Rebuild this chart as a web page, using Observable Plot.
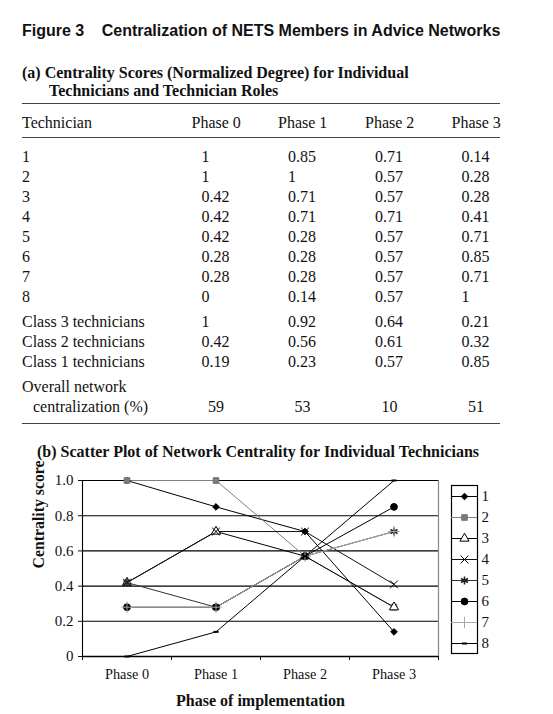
<!DOCTYPE html>
<html>
<head>
<meta charset="utf-8">
<script src="https://cdn.jsdelivr.net/npm/d3@7"></script>
<script src="https://cdn.jsdelivr.net/npm/@observablehq/plot@0.6"></script>
<style>
  html, body { margin: 0; padding: 0; background: #fff; }
  #page { position: relative; width: 553px; height: 714px; overflow: hidden; color: #111; font-family: "Liberation Serif", "Times New Roman", serif; }
  .t { position: absolute; white-space: nowrap; line-height: 20px; font-size: 16px; }
  .rule { position: absolute; left: 22px; width: 478px; height: 0; border-top: 1.4px solid #444; }
  #fig { position: absolute; left: 22px; top: 21px; font-family: "Liberation Sans", Arial, sans-serif; font-weight: bold; font-size: 16px; white-space: nowrap; line-height: 20px; }
  #fig span.num { margin-right: 13px; }
  .sub { position: absolute; font-weight: bold; font-size: 16px; white-space: nowrap; line-height: 18px; }
  #chart { position: absolute; left: 0; top: 460px; }
  #legend { position: absolute; left: 445px; top: 485px; }
</style>
</head>
<body>
<div id="page">
  <div id="fig"><span class="num">Figure 3 </span>Centralization of NETS Members in Advice Networks</div>
  <div class="sub" style="left:22px; top:64px;">(a) Centrality Scores (Normalized Degree) for Individual</div>
  <div class="sub" style="left:49px; top:82px;">Technicians and Technician Roles</div>
  <div class="sub" style="left:37px; top:443px;">(b) Scatter Plot of Network Centrality for Individual Technicians</div>
</div>
<script>
// ---------------- DATA ----------------
const phases = ["Phase 0", "Phase 1", "Phase 2", "Phase 3"];
const technicians = ["1", "2", "3", "4", "5", "6", "7", "8"];
const tech1 = [1, 0.85, 0.71, 0.14];
const tech2 = [1, 1, 0.57, 0.28];
const tech3 = [0.42, 0.71, 0.57, 0.28];
const tech4 = [0.42, 0.71, 0.71, 0.41];
const tech5 = [0.42, 0.28, 0.57, 0.71];
const tech6 = [0.28, 0.28, 0.57, 0.85];
const tech7 = [0.28, 0.28, 0.57, 0.71];
const tech8 = [0, 0.14, 0.57, 1];
const techScores = [tech1, tech2, tech3, tech4, tech5, tech6, tech7, tech8];
const roles = ["Class 3 technicians", "Class 2 technicians", "Class 1 technicians"];
const class3 = [1, 0.92, 0.64, 0.21];
const class2 = [0.42, 0.56, 0.61, 0.32];
const class1 = [0.19, 0.23, 0.57, 0.85];
const roleScores = [class3, class2, class1];
const overallLabel = ["Overall network", "centralization (%)"];
const overallCentralization = [59, 53, 10, 51];
const yTicks = [0, 0.2, 0.4, 0.6, 0.8, 1.0];

// ---------------- TABLE (HTML layout) ----------------
const page = document.getElementById("page");
function addText(txt, left, cy) {
  const d = document.createElement("div");
  d.className = "t";
  d.textContent = txt;
  d.style.left = left + "px";
  d.style.top = (cy - 10) + "px";
  page.appendChild(d);
}
function addRule(y) {
  const d = document.createElement("div");
  d.className = "rule";
  d.style.top = y + "px";
  page.appendChild(d);
}
const labelX = 22;
const colX = [191.5, 278, 365, 451.5];
const valOffset = 10, overallOffset = 16.5, rowH = 20, groupGap = 5;
addRule(103);
addText("Technician", labelX, 123);
phases.forEach((p, j) => addText(p, colX[j], 123));
addRule(137);
let cy = 157;
technicians.forEach((t, i) => {
  addText(t, labelX, cy);
  techScores[i].forEach((v, j) => addText(String(v), colX[j] + valOffset, cy));
  cy += rowH;
});
cy += groupGap;
roles.forEach((r, i) => {
  addText(r, labelX, cy);
  roleScores[i].forEach((v, j) => addText(String(v), colX[j] + valOffset, cy));
  cy += rowH;
});
cy += groupGap;
addText(overallLabel[0], labelX, cy);
cy += rowH;
addText(overallLabel[1], labelX + 11, cy);
overallCentralization.forEach((v, j) => addText(String(v), colX[j] + overallOffset, cy));
addRule(cy + 16);

// ---------------- CHART ----------------
const dashSymbol = {
  draw(context, size) {
    const w = Math.sqrt(size) * 1.1;
    context.rect(-w / 2, -1, w, 2);
  }
};
const styles = [
  {line: "#000", symbol: "diamond2", fill: "#000", stroke: "#000", r: 3.0, sw: 1},
  {line: "#808080", symbol: "square", fill: "#7a7a7a", stroke: "#7a7a7a", r: 3.2, sw: 1},
  {line: "#000", symbol: "triangle", fill: "#fff", stroke: "#000", r: 3.4, sw: 1},
  {line: "#111", symbol: "times", fill: "none", stroke: "#000", r: 3.6, sw: 1},
  {line: "#333", symbol: "asterisk", fill: "none", stroke: "#222", r: 3.8, sw: 1.6},
  {line: "#000", symbol: "circle", fill: "#000", stroke: "#000", r: 3.4, sw: 1},
  {line: "#a8a8a8", symbol: "plus", fill: "none", stroke: "#a8a8a8", r: 3.8, sw: 1},
  {line: "#000", symbol: dashSymbol, fill: "#000", stroke: "none", r: 2.6, sw: 1}
];

const rows = [];
technicians.forEach((t, i) => techScores[i].forEach((v, j) => rows.push({tech: t, ti: i, phase: j, value: v})));

const seriesMarks = [];
technicians.forEach((t, i) => {
  const data = rows.filter(d => d.tech === t);
  const s = styles[i];
  seriesMarks.push(Plot.line(data, {x: d => d.phase + 0.5, y: "value", stroke: s.line, strokeWidth: 1}));
});
technicians.forEach((t, i) => {
  const data = rows.filter(d => d.tech === t);
  const s = styles[i];
  seriesMarks.push(Plot.dot(data, {x: d => d.phase + 0.5, y: "value", symbol: s.symbol, r: s.r, fill: s.fill, stroke: s.stroke, strokeWidth: s.sw}));
});

const chart = Plot.plot({
  width: 553,
  height: 254,
  marginLeft: 82,
  marginRight: 115,
  marginTop: 20,
  marginBottom: 58,
  style: {fontFamily: "'Liberation Serif', 'Times New Roman', serif", fontSize: "14.5px", background: "transparent", color: "#111", overflow: "visible"},
  x: {domain: [0, phases.length]},
  y: {domain: [0, 1]},
  marks: [
    Plot.ruleY(yTicks.filter(v => v > 0), {stroke: "#000", strokeWidth: 1.1}),
    Plot.ruleX([phases.length], {stroke: "#888", strokeWidth: 1.2}),
    Plot.ruleX([0], {stroke: "#000", strokeWidth: 1.1}),
    Plot.ruleY([0], {stroke: "#000", strokeWidth: 1.3}),
    Plot.axisY({ticks: yTicks, tickFormat: v => v === 0 ? "0" : v.toFixed(1), tickSize: 4, tickPadding: 5, label: null, fontSize: 15}),
    Plot.axisX({ticks: d3.range(phases.length + 1), tickFormat: () => "", tickSize: 4, label: null}),
    Plot.text(phases, {x: (d, i) => i + 0.5, frameAnchor: "bottom", dy: 18, lineAnchor: "middle", fontSize: 14.3}),
    Plot.text(["Phase of implementation"], {frameAnchor: "bottom", dy: 44, lineAnchor: "middle", fontWeight: "bold", fontSize: 16}),
    Plot.text(["Centrality score"], {frameAnchor: "left", dx: -44, rotate: -90, fontWeight: "bold", fontSize: 15.8}),
    ...seriesMarks
  ]
});
chart.id = "chart";
page.appendChild(chart);

// ---------------- LEGEND ----------------
const legendMarks = [Plot.frame({stroke: "#000", strokeWidth: 1.2})];
technicians.forEach((t, i) => {
  const s = styles[i];
  legendMarks.push(Plot.ruleY([t], {y: d => d, x1: 0, x2: 1, stroke: s.line, strokeWidth: 1}));
  legendMarks.push(Plot.dot([t], {y: d => d, x: 0.5, symbol: s.symbol, r: s.r, fill: s.fill, stroke: s.stroke, strokeWidth: s.sw}));
});
legendMarks.push(Plot.text(technicians, {y: d => d, x: 1, dx: 4, textAnchor: "start", text: d => d, fontSize: 15}));
const legend = Plot.plot({
  width: 51,
  height: 168,
  marginLeft: 6,
  marginRight: 19,
  marginTop: 0,
  marginBottom: 0,
  style: {fontFamily: "'Liberation Serif', 'Times New Roman', serif", fontSize: "15px", background: "#fff", color: "#111", overflow: "visible"},
  x: {domain: [0, 1], axis: null},
  y: {type: "point", domain: technicians, padding: 0.4, axis: null},
  marks: legendMarks
});
legend.id = "legend";
page.appendChild(legend);
</script>
</body>
</html>
